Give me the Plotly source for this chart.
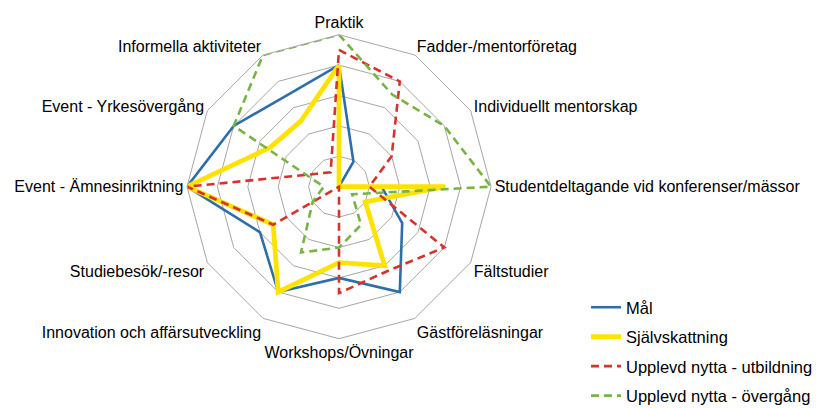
import plotly.graph_objects as go

categories = [
    "Praktik",
    "Fadder-/mentorföretag",
    "Individuellt mentorskap",
    "Studentdeltagande vid konferenser/mässor",
    "Fältstudier",
    "Gästföreläsningar",
    "Workshops/Övningar",
    "Innovation och affärsutveckling",
    "Studiebesök/-resor",
    "Event - Ämnesinriktning",
    "Event - Yrkesövergång",
    "Informella aktiviteter",
]

mal = [4.0, 0.95, 0.0, 1.4, 2.4, 4.0, 3.0, 4.0, 3.0, 5.0, 4.0, 3.46]
sjalvskattning = [4.0, 0.0, 0.0, 3.5, 1.0, 3.0, 2.5, 4.0, 2.5, 5.0, 2.6, 2.5]
nytta_utbildning = [4.5, 4.0, 2.0, 1.0, 4.0, 3.2, 3.5, 0.0, 2.5, 5.0, 0.85, 0.55]
nytta_overgang = [5.0, 3.5, 4.0, 5.0, 0.5, 1.45, 2.0, 2.5, 1.0, 0.5, 4.0, 5.0]

series = [
    ("Mål", mal, "#2f6ea8", 2.6, "solid"),
    ("Självskattning", sjalvskattning, "#ffe300", 4.8, "solid"),
    ("Upplevd nytta - utbildning", nytta_utbildning, "#d9312b", 2.6, "8px,5px"),
    ("Upplevd nytta - övergång", nytta_overgang, "#77b443", 2.6, "8px,5px"),
]

fig = go.Figure()
for i, (name, vals, color, width, dash) in enumerate(series):
    fig.add_trace(go.Scatterpolar(
        r=vals + vals[:1],
        theta=categories + categories[:1],
        mode="lines",
        name=name,
        legendgroup=f"g{i}",
        line=dict(color=color, width=width, dash=dash),
        hoverinfo="skip",
    ))

# page body adds an 8px offset; figure coordinates below are window minus 8
W, H = 815, 400
cx, cy, R = 331, 178.7, 152
fig.update_layout(
    width=W, height=H,
    margin=dict(l=0, r=0, t=0, b=0, autoexpand=False),
    paper_bgcolor="white",
    plot_bgcolor="white",
    font=dict(family="Liberation Sans, Arial, sans-serif", size=16, color="#000000"),
    polar=dict(
        domain=dict(x=[(cx - R) / W, (cx + R) / W], y=[1 - (cy + R) / H, 1 - (cy - R) / H]),
        gridshape="linear",
        bgcolor="white",
        radialaxis=dict(
            range=[0, 5], dtick=1, showticklabels=False, ticks="",
            showline=False, gridcolor="#a6a6a6", gridwidth=1,
        ),
        angularaxis=dict(
            rotation=90, direction="clockwise", showgrid=False,
            showline=True, linecolor="#a6a6a6", linewidth=1, ticks="",
            tickfont=dict(size=16),
        ),
    ),
    showlegend=True,
    legend=dict(
        x=578 / W, y=1 - 282 / H, xanchor="left", yanchor="top",
        font=dict(size=16.5), tracegroupgap=5, bgcolor="rgba(0,0,0,0)",
        itemwidth=30,
    ),
)

fig.write_html("out.html")
